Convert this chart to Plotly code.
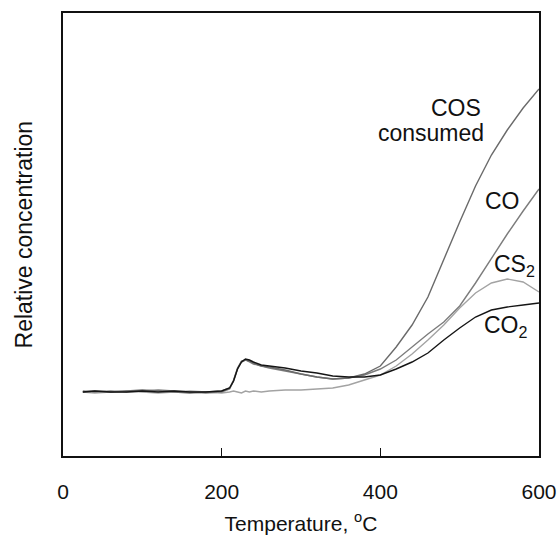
import plotly.graph_objects as go

# Temperature grid (°C)
temps = [25, 40, 60, 80, 100, 120, 140, 160, 180, 200, 210, 215, 220, 225, 230, 235,
         240, 250, 260, 280, 300, 320, 340, 360, 380, 400, 420, 440, 460, 480, 500,
         520, 540, 560, 580, 600]

# Relative concentrations (arbitrary units)
cos_consumed = [64, 65, 64, 65, 66, 65, 64, 63, 64, 65, 68, 76, 88, 95, 96, 95,
                93, 90, 89, 86, 82, 79, 77, 78, 82, 90, 109, 131, 159, 197, 234,
                270, 301, 326, 348, 367]
co = [65, 64, 65, 64, 65, 66, 65, 64, 63, 64, 67, 75, 87, 94, 96, 94,
      92, 90, 88, 85, 82, 79, 77, 78, 81, 87, 96, 109, 122, 134, 150,
      173, 198, 222, 245, 267]
cs2 = [64, 63, 64, 65, 64, 63, 64, 65, 64, 63, 64, 65, 64, 63, 65, 64,
       65, 64, 65, 66, 66, 67, 68, 71, 76, 81, 90, 102, 116, 131, 148,
       163, 173, 177, 174, 164]
co2 = [64, 65, 64, 64, 65, 64, 65, 64, 64, 65, 68, 75, 87, 94, 97, 96,
       94, 91, 90, 88, 85, 83, 80, 79, 79, 81, 87, 94, 103, 116, 128,
       139, 146, 149, 151, 153]

x_ticks = [0, 200, 400, 600]

FONT = "Liberation Sans, Arial, sans-serif"

fig = go.Figure()
series = [
    ("CS2", cs2, "#a3a3a3"),
    ("CO", co, "#7c7c7c"),
    ("COS consumed", cos_consumed, "#6a6a6a"),
    ("CO2", co2, "#151515"),
]
for name, vals, col in series:
    fig.add_trace(go.Scatter(x=temps, y=vals, mode="lines", name=name,
                             line=dict(color=col, width=1.4), showlegend=False))

ann_font = dict(family=FONT, size=23, color="#111")
labels = [
    ("COS", 530, 348),
    ("consumed", 533, 323),
    ("CO", 579, 255),
    ("CS<sub>2</sub>", 598, 191),
    ("CO<sub>2</sub>", 589, 130),
]
for txt, xv, yv in labels:
    fig.add_annotation(x=xv, y=yv, text=txt, showarrow=False, xanchor="right",
                       yanchor="middle", font=ann_font)

fig.add_annotation(xref="paper", yref="paper", x=-0.082, y=0.50, xanchor="center",
                   yanchor="middle",
                   text="Relative concentration", textangle=-90, showarrow=False,
                   font=dict(family=FONT, size=23, color="#111"))

fig.update_xaxes(range=[0, 600], tickvals=x_ticks, ticks="inside", ticklen=8,
                 tickwidth=1.2, tickcolor="#111", showline=True, linecolor="#111",
                 linewidth=1.5, mirror=True, showgrid=False, zeroline=False,
                 tickfont=dict(family=FONT, size=21, color="#111"),
                 ticklabelstandoff=16,
                 title=dict(text="Temperature, <sup>o</sup>C", standoff=14,
                            font=dict(family=FONT, size=21, color="#111")))
fig.update_yaxes(range=[0, 443], showticklabels=False, ticks="", showline=True,
                 linecolor="#111", linewidth=1.5, mirror=True, showgrid=False,
                 zeroline=False)

fig.update_layout(width=558, height=542, margin=dict(l=63, r=19, t=13, b=86, autoexpand=False),
                  paper_bgcolor="white", plot_bgcolor="white")

fig.write_html("out.html")
